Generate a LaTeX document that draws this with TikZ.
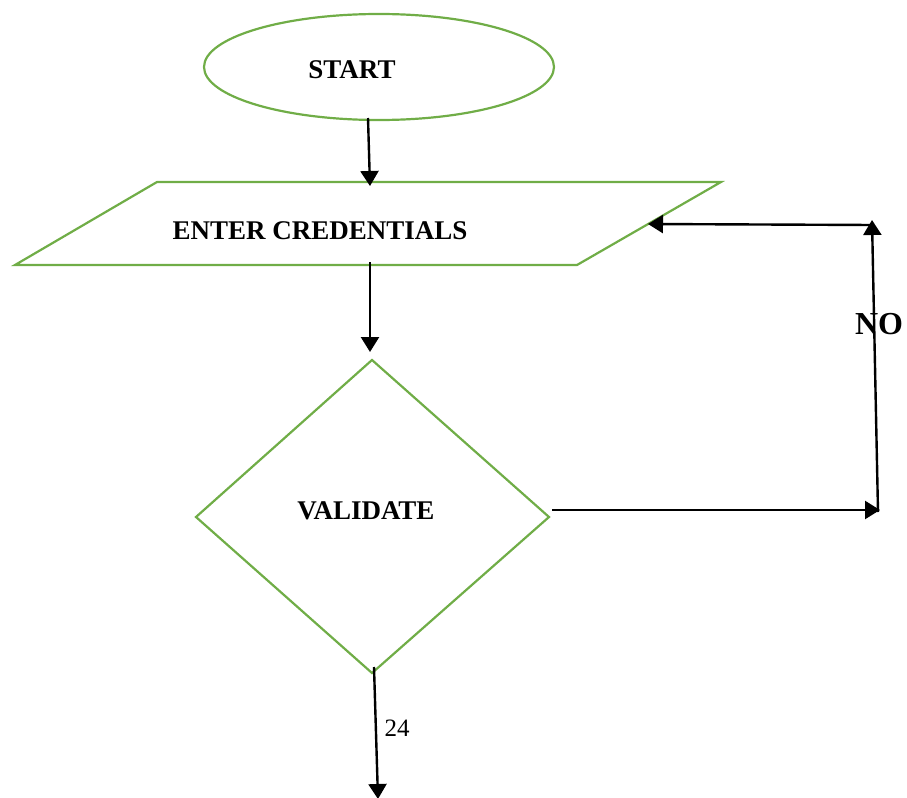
\documentclass[tikz,border=0pt]{standalone}
\usepackage{fontspec}
\setmainfont{Liberation Serif}
\usetikzlibrary{arrows.meta}
\definecolor{shapegreen}{HTML}{70AD47}
\begin{document}
\begin{tikzpicture}[x=1bp,y=-1bp,
  outline/.style={draw=shapegreen,line width=2.2bp,line join=miter},
  flow/.style={draw=black,line width=2.4bp,-{Triangle[length=15bp,width=18bp]}},
  label/.style={font=\fontsize{27bp}{30bp}\selectfont\bfseries,inner sep=0pt}]
  \useasboundingbox (0,0) rectangle (907,798);

  % terminal
  \draw[outline] (379,67) ellipse [x radius=175,y radius=53];
  \node[label] (start) at (352,70) {START};

  % input
  \draw[outline] (157,182) -- (721,182) -- (577,265) -- (15,265) -- cycle;
  \node[label] (enter) at (320,231) {ENTER CREDENTIALS};

  % decision
  \draw[outline] (372,360) -- (549,517) -- (372,673) -- (196,517) -- cycle;
  \node[label] (validate) at (366,511) {VALIDATE};

  % connector end points
  \coordinate (startbot) at (368,118);
  \coordinate (entertop) at (370,186);
  \coordinate (enterbot) at (370,262);
  \coordinate (valtop) at (370,352);
  \coordinate (valright) at (552,510);
  \coordinate (corner) at (880,510);
  \coordinate (cornerlow) at (878,512);
  \coordinate (cornerhigh) at (872,220);
  \coordinate (backstart) at (873,225);
  \coordinate (enterright) at (648,224);
  \coordinate (valbot) at (374,667);
  \coordinate (exit) at (378,799);

  \draw[flow] (startbot) -- (entertop);
  \draw[flow] (enterbot) -- (valtop);
  \draw[flow] (valright) -- (corner);
  \draw[flow] (cornerlow) -- (cornerhigh);
  \draw[flow] (backstart) -- (enterright);
  \draw[flow] (valbot) -- (exit);

  \node[font=\fontsize{32bp}{36bp}\selectfont\bfseries,inner sep=0pt] (no) at (879,324) {NO};
  \node[font=\fontsize{25bp}{28bp}\selectfont,inner sep=0pt] (pg) at (397,728) {24};
\end{tikzpicture}
\end{document}
